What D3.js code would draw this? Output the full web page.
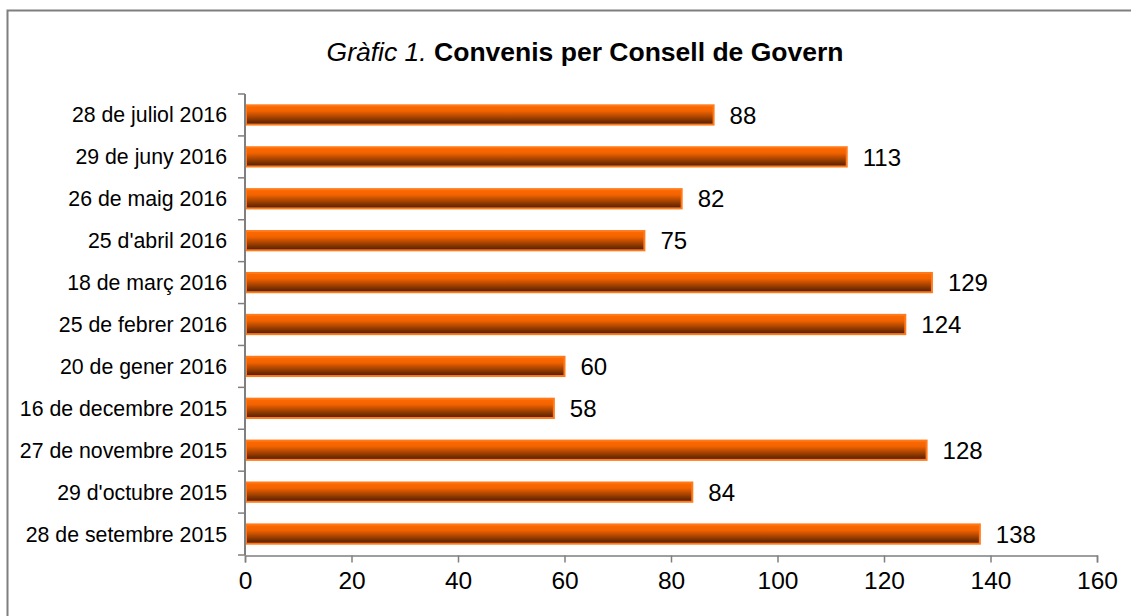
<!DOCTYPE html>
<html>
<head>
<meta charset="utf-8">
<script src="https://cdn.jsdelivr.net/npm/d3@7"></script>
<style>
  body { margin: 0; background: #fff; }
  svg { display: block; font-family: "Liberation Sans", Arial, sans-serif; }
</style>
</head>
<body>
<div id="chart"></div>
<script>
// dates of each Consell de Govern, top to bottom
var dates = ["28 de juliol 2016", "29 de juny 2016", "26 de maig 2016", "25 d'abril 2016",
             "18 de març 2016", "25 de febrer 2016", "20 de gener 2016", "16 de decembre 2015",
             "27 de novembre 2015", "29 d'octubre 2015", "28 de setembre 2015"];
var convenis = [88, 113, 82, 75, 129, 124, 60, 58, 128, 84, 138];
var xTicks = [0, 20, 40, 60, 80, 100, 120, 140, 160];

function init() {
    var w = 1131;
    var h = 616;
    var margin = {left: 245, right: 34, top: 94, bottom: 61};

    var svg = d3.select("#chart")
                .append("svg")
                .attr("width", w)
                .attr("height", h);

    // outer frame (only top and left edge fall inside the picture)
    svg.append("rect")
       .attr("x", 7.5).attr("y", 10.5)
       .attr("width", 1200).attr("height", 700)
       .attr("fill", "none")
       .attr("stroke", "#7f7f7f")
       .attr("stroke-width", 2);

    var defs = svg.append("defs");
    var grad = defs.append("linearGradient")
                   .attr("id", "barGrad")
                   .attr("x1", 0).attr("y1", 0).attr("x2", 0).attr("y2", 1);
    grad.append("stop").attr("offset", "0%").attr("stop-color", "#ff6a00");
    grad.append("stop").attr("offset", "30%").attr("stop-color", "#f26300");
    grad.append("stop").attr("offset", "100%").attr("stop-color", "#4d1c00");

    var x = d3.scaleLinear()
              .domain([0, 160])
              .range([margin.left, w - margin.right]);

    var y = d3.scaleBand()
              .domain(dates)
              .range([margin.top, h - margin.bottom])
              .paddingInner(0.54)
              .paddingOuter(0.27);

    // title
    var title = svg.append("text")
                   .attr("x", 585)
                   .attr("y", 61)
                   .attr("text-anchor", "middle")
                   .style("font-size", "26.5px")
                   .attr("fill", "#000");
    title.append("tspan").style("font-style", "italic").text("Gràfic 1. ");
    title.append("tspan").style("font-weight", "bold").text("Convenis per Consell de Govern");

    // bars
    svg.selectAll("rect.bar")
       .data(convenis)
       .enter()
       .append("rect")
       .attr("class", "bar")
       .attr("x", x(0) + 1)
       .attr("y", function(d, i) { return y(dates[i]); })
       .attr("width", function(d) { return x(d) - x(0) - 1; })
       .attr("height", y.bandwidth())
       .attr("fill", "url(#barGrad)")
       .attr("stroke", "#ff7a1a")
       .attr("stroke-width", 2);

    // value labels
    svg.selectAll("text.val")
       .data(convenis)
       .enter()
       .append("text")
       .attr("class", "val")
       .attr("x", function(d) { return x(d) + 16; })
       .attr("y", function(d, i) { return y(dates[i]) + y.bandwidth() / 2; })
       .attr("dy", "0.36em")
       .style("font-size", "24px")
       .text(function(d) { return d; });

    // x axis
    var xAxis = d3.axisBottom(x)
                  .tickValues(xTicks)
                  .tickSize(7)
                  .tickSizeOuter(7)
                  .tickPadding(9);
    var gx = svg.append("g")
                .attr("transform", "translate(0," + (h - margin.bottom + 0.5) + ")")
                .call(xAxis);
    gx.selectAll("path, line").attr("stroke", "#7f7f7f").attr("stroke-width", 1.5);
    gx.selectAll("text").style("font-size", "24.5px").attr("fill", "#000");

    // y axis: line with ticks between categories
    var gy = svg.append("g");
    gy.append("line")
      .attr("x1", x(0)).attr("x2", x(0))
      .attr("y1", margin.top).attr("y2", h - margin.bottom)
      .attr("stroke", "#7f7f7f").attr("stroke-width", 2);
    var step = y.step();
    var bounds = d3.range(dates.length + 1).map(function(i) { return margin.top + i * step; });
    gy.selectAll("line.tk")
      .data(bounds)
      .enter()
      .append("line")
      .attr("class", "tk")
      .attr("x1", x(0) - 7).attr("x2", x(0))
      .attr("y1", function(d) { return d; })
      .attr("y2", function(d) { return d; })
      .attr("stroke", "#7f7f7f").attr("stroke-width", 1.5);
    gy.selectAll("text")
      .data(dates)
      .enter()
      .append("text")
      .attr("x", x(0) - 18)
      .attr("y", function(d) { return y(d) + y.bandwidth() / 2; })
      .attr("dy", "0.35em")
      .attr("text-anchor", "end")
      .style("font-size", "21.3px")
      .text(function(d) { return d; });
}

window.onload = init;
</script>
</body>
</html>
